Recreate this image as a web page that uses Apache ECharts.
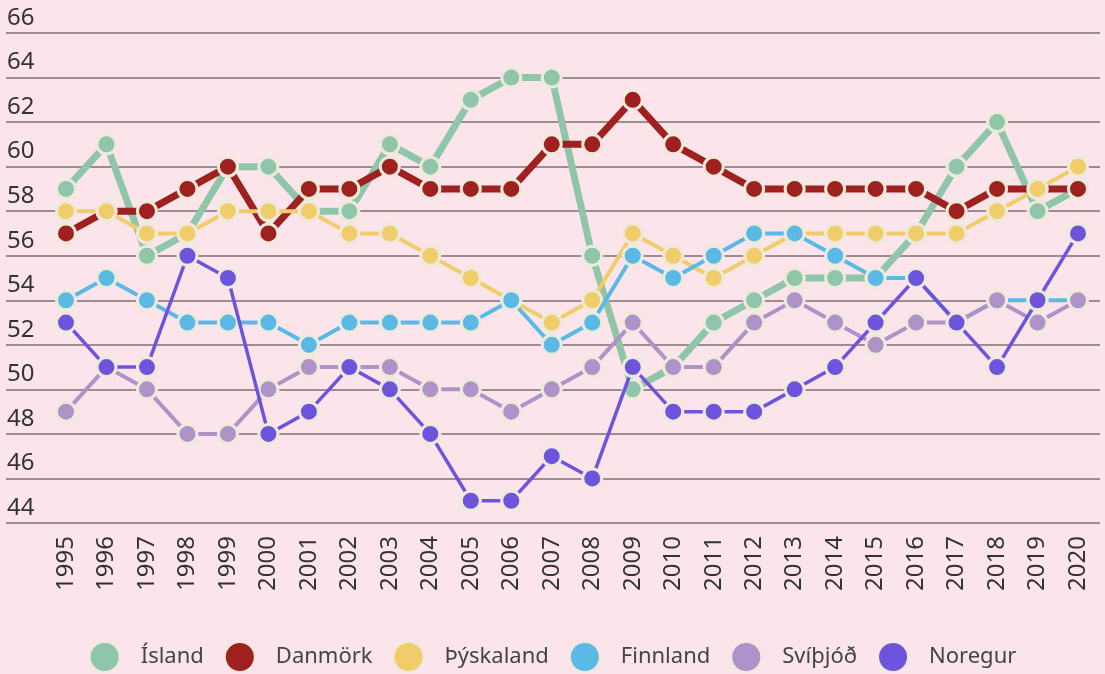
<!DOCTYPE html>
<html>
<head>
<meta charset="utf-8">
<script src="https://cdn.jsdelivr.net/npm/echarts@6/dist/echarts.min.js"></script>
<style>
  html, body { margin: 0; padding: 0; background: #fce5ea; }
  #chart { width: 1105px; height: 674px; }
</style>
</head>
<body>
<div id="chart"></div>
<script>
var years = ['1995','1996','1997','1998','1999','2000','2001','2002','2003','2004','2005','2006','2007',
  '2008','2009','2010','2011','2012','2013','2014','2015','2016','2017','2018','2019','2020'];

var island    = [59,61,56,57,60,60,58,58,61,60,63,64,64,56,50,51,53,54,55,55,55,57,60,62,58,59];
var danmork   = [57,58,58,59,60,57,59,59,60,59,59,59,61,61,63,61,60,59,59,59,59,59,58,59,59,59];
var thyskaland= [58,58,57,57,58,58,58,57,57,56,55,54,53,54,57,56,55,56,57,57,57,57,57,58,59,60];
var finnland  = [54,55,54,53,53,53,52,53,53,53,53,54,52,53,56,55,56,57,57,56,55,55,53,54,54,54];
var svithjod  = [49,51,50,48,48,50,51,51,51,50,50,49,50,51,53,51,51,53,54,53,52,53,53,54,53,54];
var noregur   = [53,51,51,56,55,48,49,51,50,48,45,45,47,46,51,49,49,49,50,51,53,55,53,51,54,57];

var names  = ['Ísland','Danmörk','Þýskaland','Finnland','Svíþjóð','Noregur'];
var colors = ['#8fc6a9','#9e2120','#f0cc6a','#5bb9e6','#ae92c8','#6e54dd'];
var widths = [7, 7, 4, 4, 4, 3.5];
var values = [island, danmork, thyskaland, finnland, svithjod, noregur];

var font = '"Noto Sans", "DejaVu Sans", sans-serif';

var series = names.map(function (n, i) {
  return {
    name: n,
    type: 'line',
    xAxisIndex: 1,
    yAxisIndex: 1,
    data: values[i],
    symbol: 'circle',
    symbolSize: 19,
    lineStyle: { color: colors[i], width: widths[i] },
    itemStyle: { color: colors[i], borderColor: '#eeeadb', borderWidth: 3 },
    z: 2 + i,
    animation: false
  };
});

var chart = echarts.init(document.getElementById('chart'));
chart.setOption({
  backgroundColor: '#fce5ea',
  textStyle: { fontFamily: font },
  grid: [
    { left: 6, right: 5, top: 33, bottom: 151 },
    { left: 66, right: 27, top: 33, bottom: 151 }
  ],
  xAxis: [
    { gridIndex: 0, type: 'category', data: years, show: false },
    {
      gridIndex: 1, type: 'category', data: years, boundaryGap: false,
      axisLine: { show: false }, axisTick: { show: false },
      axisLabel: { rotate: 90, fontSize: 24, color: '#333', margin: 13, fontFamily: font, interval: 0 }
    }
  ],
  yAxis: [
    {
      gridIndex: 0, type: 'value', min: 44, max: 66, interval: 2,
      axisLine: { show: false }, axisTick: { show: false },
      axisLabel: {
        inside: true, align: 'left', verticalAlign: 'bottom', margin: 1,
        fontSize: 24, color: '#333', fontFamily: font, padding: [0, 0, 3, 0]
      },
      splitLine: { lineStyle: { color: '#9e8d90', width: 2 } }
    },
    { gridIndex: 1, type: 'value', min: 44, max: 66, interval: 2, show: false, splitLine: { show: false } }
  ],
  legend: {
    data: names,
    bottom: -4,
    left: 'center',
    icon: 'circle',
    itemWidth: 30,
    itemHeight: 30,
    itemGap: 20,
    textStyle: { fontSize: 22, color: '#444', fontFamily: font, padding: [0, 0, 0, 16] }
  },
  series: series
});
</script>
</body>
</html>
